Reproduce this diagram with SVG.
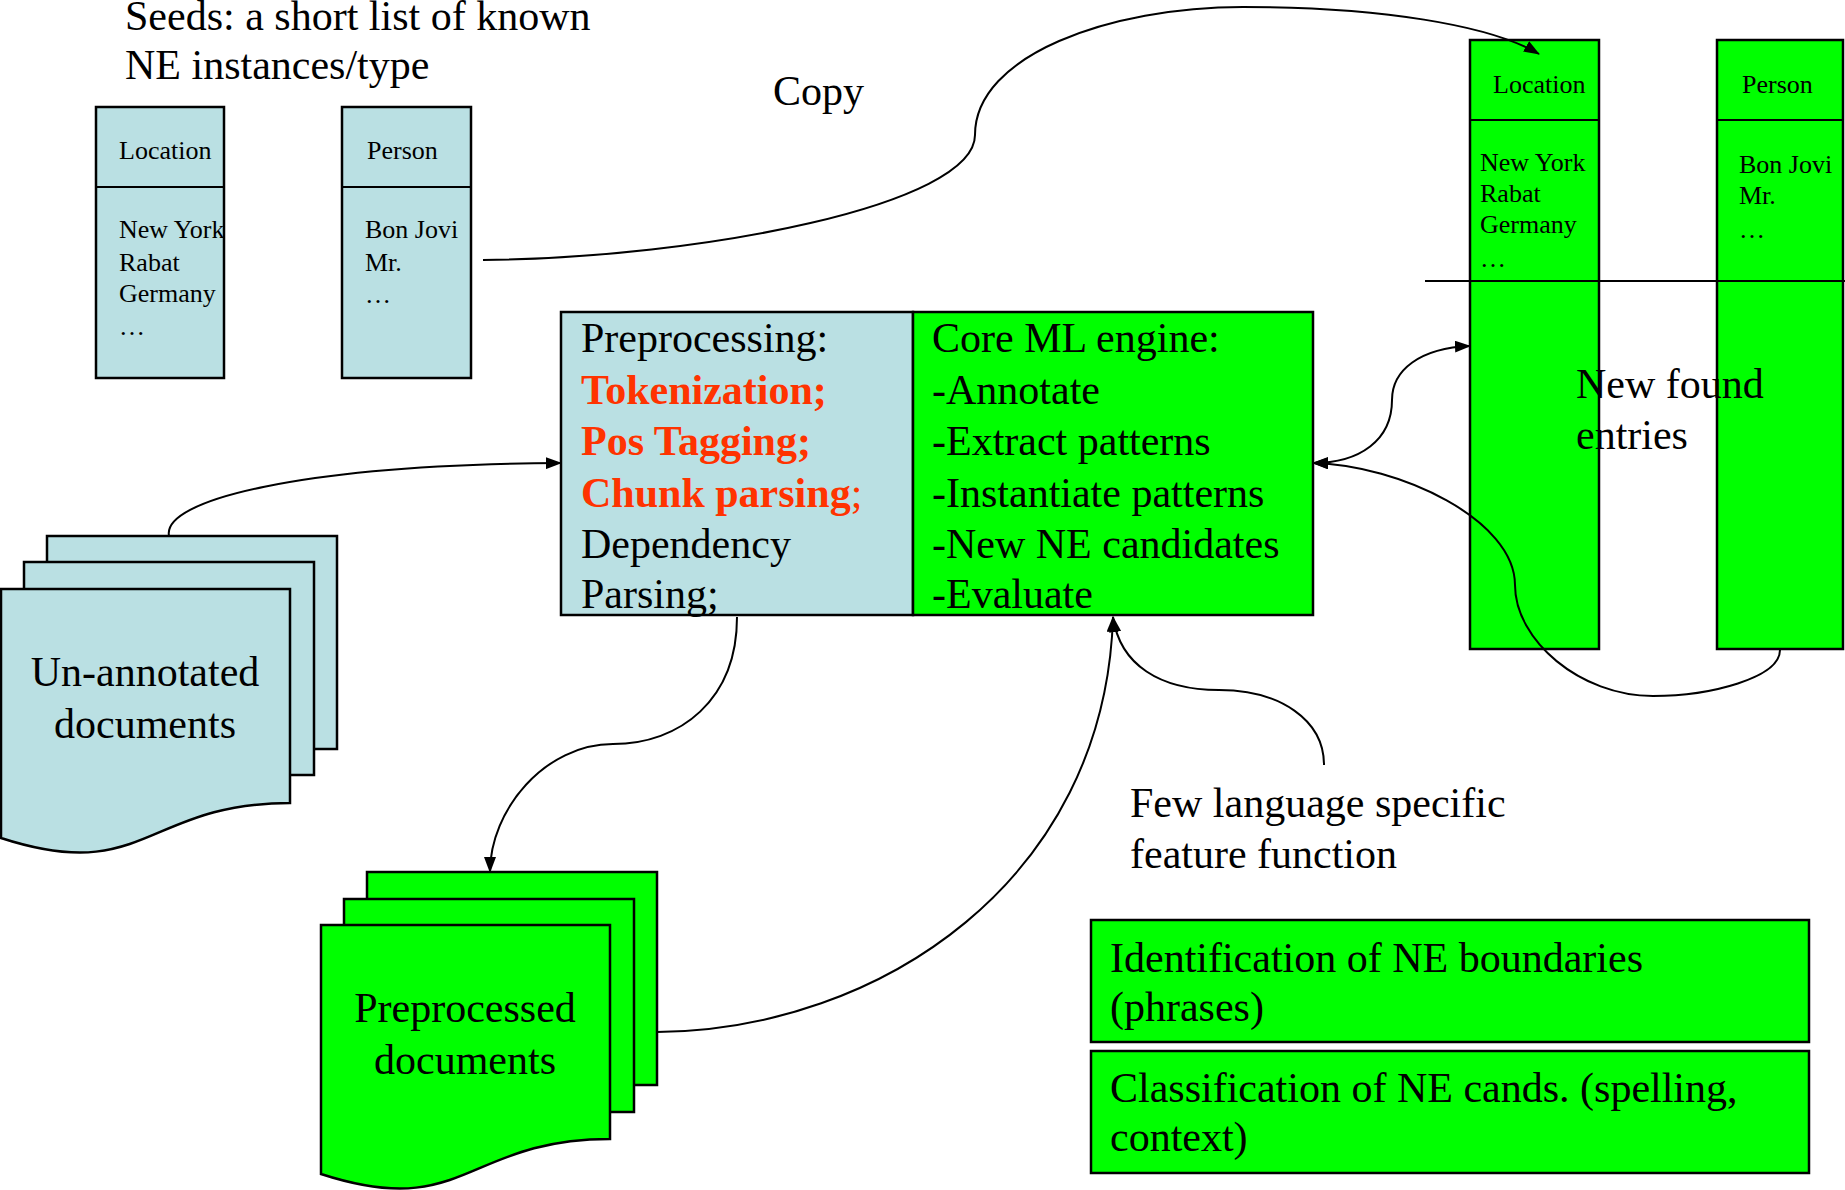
<svg xmlns="http://www.w3.org/2000/svg" width="1845" height="1190" viewBox="0 0 1845 1190">
  <style>
    text { font-family: "Liberation Serif", "Times New Roman", serif; fill: #000; }
    .cyan { fill: #BAE0E3; stroke: #000; stroke-width: 2.5; }
    .green { fill: #00FF00; stroke: #000; stroke-width: 2.5; }
    .line { fill: none; stroke: #000; stroke-width: 2; }
    .big { font-size: 42px; }
    .small { font-size: 26px; }
    .red { fill: #FF3300; font-weight: bold; }
    .mid { text-anchor: middle; }
  </style>
  <defs>
    <marker id="arrow" viewBox="0 0 16 12" refX="15" refY="6" markerWidth="16" markerHeight="12" markerUnits="userSpaceOnUse" orient="auto-start-reverse">
      <path d="M0,0 L16,6 L0,12 z" fill="#000"/>
    </marker>
  </defs>

  <!-- Seed lists -->
  <g id="seeds-title">
    <text class="big" x="125" y="30">Seeds: a short list of known</text>
    <text class="big" x="125" y="79">NE instances/type</text>
  </g>
  <g id="seed-location">
    <rect class="cyan" x="96" y="107" width="128" height="271"/>
    <line class="line" x1="96" y1="187" x2="224" y2="187" stroke-width="2.5"/>
    <text class="small" x="119" y="159">Location</text>
    <text class="small" x="119" y="238">New York</text>
    <text class="small" x="119" y="271">Rabat</text>
    <text class="small" x="119" y="302">Germany</text>
    <text class="small" x="119" y="335">…</text>
  </g>
  <g id="seed-person">
    <rect class="cyan" x="342" y="107" width="129" height="271"/>
    <line class="line" x1="342" y1="187" x2="471" y2="187" stroke-width="2.5"/>
    <text class="small" x="367" y="159">Person</text>
    <text class="small" x="365" y="238">Bon Jovi</text>
    <text class="small" x="365" y="271">Mr.</text>
    <text class="small" x="365" y="303">…</text>
  </g>

  <g id="copy-label">
    <text class="big" x="773" y="105">Copy</text>
  </g>

  <!-- Found entry lists -->
  <g id="found-location">
    <rect class="green" x="1470" y="40" width="129" height="609"/>
    <line class="line" x1="1470" y1="120" x2="1599" y2="120" stroke-width="2.5"/>
    <text class="small" x="1493" y="93">Location</text>
    <text class="small" x="1480" y="171">New York</text>
    <text class="small" x="1480" y="202">Rabat</text>
    <text class="small" x="1480" y="233">Germany</text>
    <text class="small" x="1480" y="267">…</text>
  </g>
  <g id="found-person">
    <rect class="green" x="1717" y="40" width="126" height="609"/>
    <line class="line" x1="1717" y1="120" x2="1843" y2="120" stroke-width="2.5"/>
    <text class="small" x="1742" y="93">Person</text>
    <text class="small" x="1739" y="173">Bon Jovi</text>
    <text class="small" x="1739" y="204">Mr.</text>
    <text class="small" x="1739" y="238">…</text>
  </g>
  <g id="found-divider">
    <line class="line" x1="1425" y1="281" x2="1845" y2="281" stroke-width="2.5"/>
    <text class="big" x="1576" y="398">New found</text>
    <text class="big" x="1576" y="449">entries</text>
  </g>

  <!-- Main processing block -->
  <g id="preprocessing">
    <rect class="cyan" x="561" y="312" width="352" height="303" stroke-width="3"/>
    <text class="big" x="581" y="352">Preprocessing:</text>
    <text class="big red" x="581" y="404">Tokenization;</text>
    <text class="big red" x="581" y="455">Pos Tagging;</text>
    <text class="big red" x="581" y="507">Chunk parsing<tspan font-weight="normal">;</tspan></text>
    <text class="big" x="581" y="558">Dependency</text>
    <text class="big" x="581" y="608">Parsing;</text>
  </g>
  <g id="core-engine">
    <rect class="green" x="913" y="312" width="400" height="303" stroke-width="3"/>
    <text class="big" x="932" y="352">Core ML engine:</text>
    <text class="big" x="932" y="404">-Annotate</text>
    <text class="big" x="932" y="455">-Extract patterns</text>
    <text class="big" x="932" y="507">-Instantiate patterns</text>
    <text class="big" x="932" y="558">-New NE candidates</text>
    <text class="big" x="932" y="608">-Evaluate</text>
  </g>

  <!-- Document stacks -->
  <g id="unannotated-docs">
    <rect class="cyan" x="47" y="536" width="290" height="213"/>
    <rect class="cyan" x="24" y="562" width="290" height="213"/>
    <path class="cyan" d="M1,589 H290 V803 C145.5,803 145.5,885 1,838 Z"/>
    <text class="big mid" x="145" y="686">Un-annotated</text>
    <text class="big mid" x="145" y="738">documents</text>
  </g>
  <g id="preprocessed-docs">
    <rect class="green" x="367" y="872" width="290" height="213"/>
    <rect class="green" x="344" y="899" width="290" height="213"/>
    <path class="green" d="M321,925 H610 V1139 C465.5,1139 465.5,1221 321,1174 Z"/>
    <text class="big mid" x="465" y="1022">Preprocessed</text>
    <text class="big mid" x="465" y="1074">documents</text>
  </g>

  <g id="feature-label">
    <text class="big" x="1130" y="817">Few language specific</text>
    <text class="big" x="1130" y="868">feature function</text>
  </g>
  <g id="identification">
    <rect class="green" x="1091" y="920" width="718" height="122"/>
    <text class="big" x="1110" y="972">Identification of NE boundaries</text>
    <text class="big" x="1110" y="1021">(phrases)</text>
  </g>
  <g id="classification">
    <rect class="green" x="1091" y="1051" width="718" height="122"/>
    <text class="big" x="1110" y="1102">Classification of NE cands. (spelling,</text>
    <text class="big" x="1110" y="1151">context)</text>
  </g>

  <!-- Connectors -->
  <g id="connectors">
    <path class="line" d="M483,260 C700,258 975,205 975,135 C975,55 1110,7 1243,7 C1380,7 1490,25 1539,54" marker-end="url(#arrow)"/>
    <path class="line" d="M169,536 C162,500 300,465 561,463" marker-end="url(#arrow)"/>
    <path class="line" d="M737,617 C737,700 680,744 613,744 C545,744 490,810 490,872" marker-end="url(#arrow)"/>
    <path class="line" d="M657,1032 C880,1030 1105,880 1113,617" marker-end="url(#arrow)"/>
    <path class="line" d="M1324,765 C1324,720 1280,690 1219,690 C1160,690 1120,665 1113,617" marker-end="url(#arrow)"/>
    <path class="line" d="M1313,463 C1360,463 1392,440 1392,400 C1392,370 1420,348 1470,346" marker-start="url(#arrow)" marker-end="url(#arrow)"/>
    <path class="line" d="M1780,650 C1780,678 1710,696 1653,696 C1580,696 1515,640 1515,585 C1515,520 1400,465 1313,463" marker-end="url(#arrow)"/>
  </g>
</svg>
